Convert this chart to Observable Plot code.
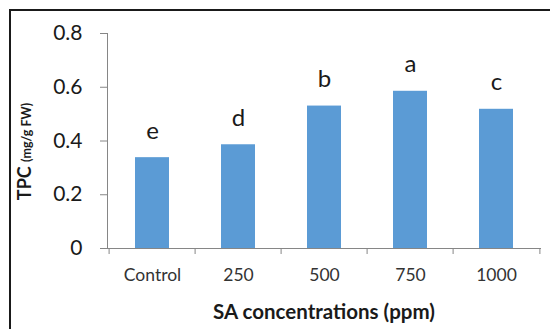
<!DOCTYPE html>
<html>
<head>
<meta charset="utf-8">
<script src="https://cdn.jsdelivr.net/npm/d3@7"></script>
<script src="https://cdn.jsdelivr.net/npm/@observablehq/plot@0.6"></script>
<style>
  html, body { margin: 0; padding: 0; background: #fff; }
  #wrap { position: relative; width: 550px; height: 329px; overflow: hidden; }
  #border { position: absolute; left: 9px; top: 9px; width: 560px; height: 400px;
            border-left: 2px solid #1a1a1a; border-top: 2px solid #1a1a1a; box-sizing: border-box; }
  #chart { position: absolute; left: 0; top: 0; }
</style>
</head>
<body>
<div id="wrap"><div id="border"></div><div id="chart"></div></div>
<script>
const categories = ["Control", "250", "500", "750", "1000"];
const tpc = [0.338, 0.386, 0.530, 0.585, 0.518];
const letters = ["e", "d", "b", "a", "c"];
const yTicks = [0, 0.2, 0.4, 0.6, 0.8];

const data = categories.map((c, i) => ({ c, v: tpc[i], l: letters[i] }));

const W = 550, H = 329, ML = 107, MR = 9, MT = 33, MB = 81;
const step = (W - ML - MR) / (categories.length - 0.6 + 0.6);
const axisColor = "#868686";
const textColor = "#1a1a1a";

const plot = Plot.plot({
  width: W, height: H,
  marginLeft: ML, marginRight: MR, marginTop: MT, marginBottom: MB,
  style: { fontFamily: "Lato, sans-serif", color: textColor, background: "transparent" },
  x: { domain: categories, paddingInner: 0.6, paddingOuter: 0.3 },
  y: { domain: [0, 0.8] },
  marks: [
    Plot.barY(data, { x: "c", y: "v", fill: "#5b9bd5" }),
    Plot.frame({ anchor: "left", stroke: axisColor }),
    Plot.ruleY([0], { stroke: axisColor }),
    Plot.axisY({ ticks: yTicks, tickSize: 7, tickPadding: 18, fontSize: 21, stroke: axisColor,
                 fill: textColor, label: null, tickFormat: d3.format("") }),
    // label axis
    Plot.axisX({ tickSize: 0, tickPadding: 20, fontSize: 17.5, fill: "#333", label: null }),
    // category boundary ticks
    Plot.axisX({ tickSize: 6, dx: -step / 2, stroke: axisColor, tickFormat: () => "", label: null }),
    Plot.axisX({ ticks: [categories[categories.length - 1]], tickSize: 6, dx: step / 2,
                 stroke: axisColor, tickFormat: () => "", label: null }),
    Plot.text(data, { x: "c", y: "v", text: "l", dy: -19, lineAnchor: "bottom",
                      fontSize: 24, fill: textColor })
  ]
});

const svg = d3.select(plot);
svg.append("text")
  .attr("x", (ML + W - MR) / 2).attr("y", 319)
  .attr("text-anchor", "middle")
  .attr("font-family", "Lato, sans-serif")
  .attr("font-weight", "bold").attr("font-size", 20.5).attr("fill", textColor)
  .text("SA concentrations (ppm)");

const yt = svg.append("text")
  .attr("transform", `translate(31, ${(MT + H - MB) / 2 + 11}) rotate(-90)`)
  .attr("text-anchor", "middle")
  .attr("font-family", "Lato, sans-serif")
  .attr("fill", textColor);
yt.append("tspan").attr("font-weight", "bold").attr("font-size", 18).text("TPC ");
yt.append("tspan").attr("font-weight", "bold").attr("font-size", 12.5).text("(mg/g FW)");

document.getElementById("chart").appendChild(plot);
</script>
</body>
</html>
